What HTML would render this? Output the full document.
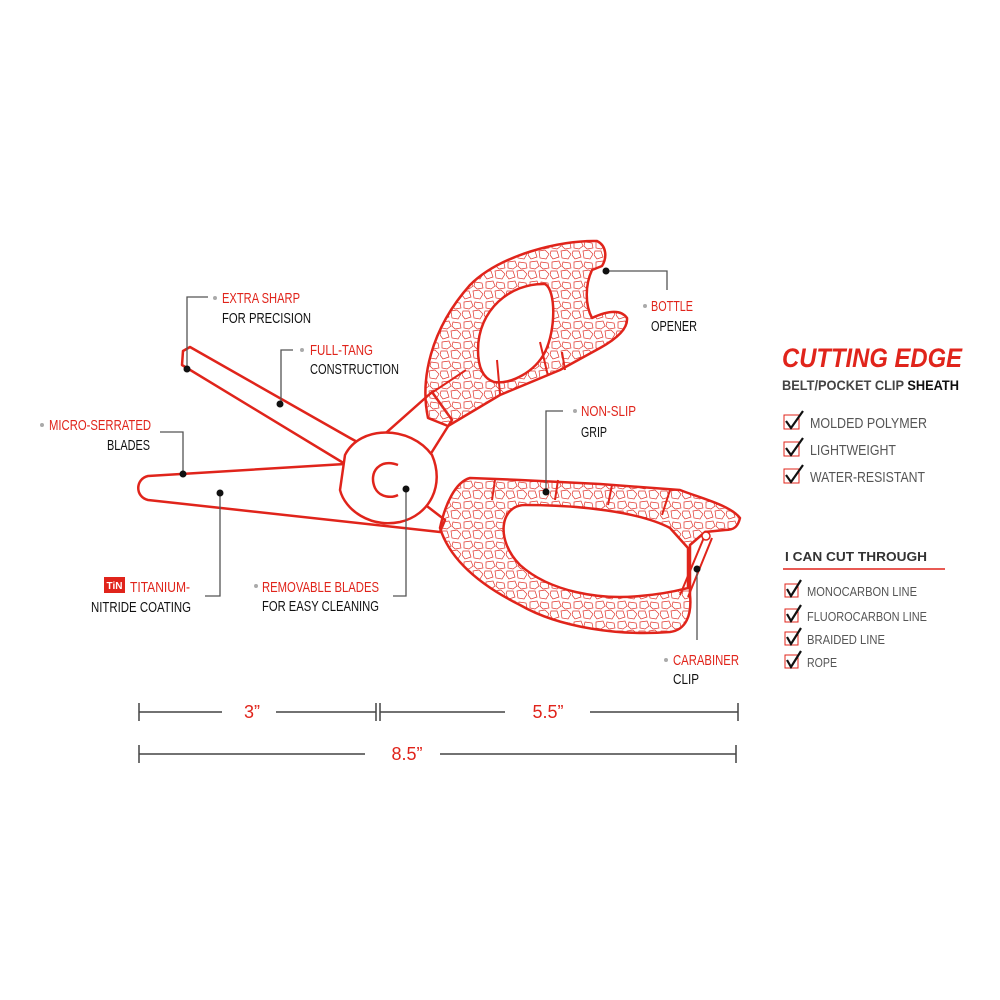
<!DOCTYPE html>
<html><head><meta charset="utf-8"><style>
body{margin:0;background:#fff;}
svg{display:block}
.n{font-family:"Liberation Sans Narrow","Liberation Sans",sans-serif;}
</style></head><body>
<svg width="1000" height="1000" viewBox="0 0 1000 1000" xmlns="http://www.w3.org/2000/svg" class="n">
<defs>
<pattern id="tex" width="22" height="20" patternUnits="userSpaceOnUse">
<g fill="none" stroke="#e0322a" stroke-width="0.7">
<path d="M2 2 L9 1 L11 6 L7 9 L2 8 Z"/>
<path d="M13 2 L20 3 L21 8 L15 9 L12 6 Z"/>
<path d="M1 11 L7 11 L9 17 L3 19 L0 15 Z"/>
<path d="M11 11 L17 10 L21 14 L18 19 L12 18 Z"/>
</g>
</pattern>
</defs>
<g stroke="#e0241b" stroke-width="2.5" fill="#fff" stroke-linejoin="round">
<path d="M378 440 L432 392 L452 420 L430 455 Z"/>
<path d="M183 351 L190 347 L350 438 L372 450 L355 470 L182 365 Z"/>
<path d="M148 476 L345 464 L380 470 L445 520 L440 532 L148 500 C135 497 135 479 148 476 Z"/>
<path d="M345 455 C360 425 410 425 432 455 C445 485 430 515 400 522 C370 528 345 510 340 490 Z"/>
<path fill="url(#tex)" fill-rule="evenodd" d="M428 418 C420 380 430 330 470 285 C500 255 560 240 597 241 C607 246 607 258 602 266 L592 270 C585 285 585 305 592 318 C605 312 620 308 627 318 C628 328 618 338 600 348 L560 370 L500 395 L448 426 Z
M478 350 C478 310 510 283 545 284 C556 290 556 330 545 352 C535 372 510 385 494 382 C482 378 478 365 478 350 Z"/>
<path fill="url(#tex)" fill-rule="evenodd" d="M440 528 C445 505 455 482 470 478 L520 480 L600 484 L680 490 C700 498 730 505 740 518 C738 526 735 530 725 530 L705 532 L690 545 L690 595 C692 615 686 630 670 632 C620 636 560 628 520 605 C480 585 450 560 440 528 Z
M525 505 C500 505 495 540 520 565 C550 592 600 600 640 596 C665 594 680 590 688 588 L688 548 L670 528 C640 512 580 505 525 505 Z"/>
</g>
<path d="M430 394 L466 370 M500 394 L497 360 M548 376 L540 342 M565 370 L562 352 M495 480 L492 500 M558 480 L555 500 M612 485 L608 505 M670 490 L662 515" stroke="#e0241b" stroke-width="2" fill="none"/>
<path d="M398 465 C380 458 368 472 375 488 C380 498 392 498 398 495" stroke="#e0241b" stroke-width="2.5" fill="none"/>
<path d="M705 535 L680 595 M712 538 L688 597" stroke="#e0241b" stroke-width="2" fill="none"/>
<circle cx="706" cy="536" r="4" stroke="#e0241b" fill="#fff" stroke-width="1.5"/>

<g stroke="#555" stroke-width="1.3" fill="none">
<path d="M208 297 H187 V368"/>
<path d="M293 350 H281 V403"/>
<path d="M160 432 H183 V473"/>
<path d="M205 596 H220 V493"/>
<path d="M393 596 H406 V489"/>
<path d="M563 411 H546 V491"/>
<path d="M606 271 H667 V290"/>
<path d="M697 569 V640"/>
</g>
<g fill="#111">
<circle cx="187" cy="369" r="3.5"/><circle cx="280" cy="404" r="3.5"/><circle cx="183" cy="474" r="3.5"/>
<circle cx="220" cy="493" r="3.5"/><circle cx="406" cy="489" r="3.5"/><circle cx="546" cy="492" r="3.5"/>
<circle cx="606" cy="271" r="3.5"/><circle cx="697" cy="569" r="3.5"/>
</g>
<g fill="#aaa"><circle cx="215" cy="298" r="2"/><circle cx="302" cy="350" r="2"/><circle cx="42" cy="425" r="2"/><circle cx="256" cy="586" r="2"/><circle cx="575" cy="411" r="2"/><circle cx="645" cy="306" r="2"/><circle cx="666" cy="660" r="2"/></g>
<g font-size="15" lengthAdjust="spacingAndGlyphs">
<text x="222" y="303" fill="#e0241b" textLength="78" lengthAdjust="spacingAndGlyphs">EXTRA SHARP</text>
<text x="222" y="323" fill="#111" textLength="89" lengthAdjust="spacingAndGlyphs">FOR PRECISION</text>
<text x="310" y="355" fill="#e0241b" textLength="63" lengthAdjust="spacingAndGlyphs">FULL-TANG</text>
<text x="310" y="374" fill="#111" textLength="89" lengthAdjust="spacingAndGlyphs">CONSTRUCTION</text>
<text x="49" y="430" fill="#e0241b" textLength="102" lengthAdjust="spacingAndGlyphs">MICRO-SERRATED</text>
<text x="107" y="450" fill="#111" textLength="43" lengthAdjust="spacingAndGlyphs">BLADES</text>
<text x="130" y="592" fill="#e0241b" textLength="60" lengthAdjust="spacingAndGlyphs">TITANIUM-</text>
<text x="91" y="612" fill="#111" textLength="100" lengthAdjust="spacingAndGlyphs">NITRIDE COATING</text>
<text x="262" y="592" fill="#e0241b" textLength="117" lengthAdjust="spacingAndGlyphs">REMOVABLE BLADES</text>
<text x="262" y="611" fill="#111" textLength="117" lengthAdjust="spacingAndGlyphs">FOR EASY CLEANING</text>
<text x="581" y="416" fill="#e0241b" textLength="55" lengthAdjust="spacingAndGlyphs">NON-SLIP</text>
<text x="581" y="437" fill="#111" textLength="26" lengthAdjust="spacingAndGlyphs">GRIP</text>
<text x="651" y="311" fill="#e0241b" textLength="42" lengthAdjust="spacingAndGlyphs">BOTTLE</text>
<text x="651" y="331" fill="#111" textLength="46" lengthAdjust="spacingAndGlyphs">OPENER</text>
<text x="673" y="665" fill="#e0241b" textLength="66" lengthAdjust="spacingAndGlyphs">CARABINER</text>
<text x="673" y="684" fill="#111" textLength="26" lengthAdjust="spacingAndGlyphs">CLIP</text>
</g>
<rect x="104" y="577" width="21" height="16" fill="#e0241b"/>
<text x="114.5" y="589" font-size="10" fill="#fff" text-anchor="middle" font-weight="bold">TiN</text>

<g stroke="#444" stroke-width="1.5">
<path d="M139 712 H222 M276 712 H376 M139 703 V721 M376 703 V721"/>
<path d="M380 712 H505 M590 712 H738 M380 703 V721 M738 703 V721"/>
<path d="M139 754 H365 M440 754 H736 M139 745 V763 M736 745 V763"/>
</g>
<g font-size="18" fill="#e0241b" text-anchor="middle">
<text x="252" y="718">3”</text><text x="548" y="718">5.5”</text><text x="407" y="760">8.5”</text>
</g>

<text x="782" y="367" font-size="27" font-weight="bold" font-style="italic" fill="#e0241b" textLength="180" lengthAdjust="spacingAndGlyphs">CUTTING EDGE</text>
<text x="782" y="390" font-size="14" font-weight="bold" fill="#444" textLength="177" lengthAdjust="spacingAndGlyphs">BELT/POCKET CLIP <tspan fill="#111">SHEATH</tspan></text>
<g font-size="15" fill="#555">
<text x="810" y="428" textLength="117" lengthAdjust="spacingAndGlyphs">MOLDED POLYMER</text>
<text x="810" y="455" textLength="86" lengthAdjust="spacingAndGlyphs">LIGHTWEIGHT</text>
<text x="810" y="482" textLength="115" lengthAdjust="spacingAndGlyphs">WATER-RESISTANT</text>
</g>
<text x="785" y="561" font-size="13" font-weight="bold" fill="#333" textLength="142" lengthAdjust="spacingAndGlyphs">I CAN CUT THROUGH</text>
<path d="M783 569 H945" stroke="#e0241b" stroke-width="1.5"/>
<g font-size="13" fill="#555">
<text x="807" y="596" textLength="110" lengthAdjust="spacingAndGlyphs">MONOCARBON LINE</text>
<text x="807" y="621" textLength="120" lengthAdjust="spacingAndGlyphs">FLUOROCARBON LINE</text>
<text x="807" y="644" textLength="78" lengthAdjust="spacingAndGlyphs">BRAIDED LINE</text>
<text x="807" y="667" textLength="30" lengthAdjust="spacingAndGlyphs">ROPE</text>
</g>
<g fill="none">
<g stroke="#e0241b" stroke-width="1">
<rect x="784" y="415" width="15" height="14"/><rect x="784" y="442" width="15" height="14"/><rect x="784" y="469" width="15" height="14"/>
<rect x="785" y="584" width="13" height="13"/><rect x="785" y="609" width="13" height="13"/><rect x="785" y="632" width="13" height="13"/><rect x="785" y="655" width="13" height="13"/>
</g>
<g stroke="#111" stroke-width="2.2">
<path d="M786 421 L791 428 L803 411"/><path d="M786 448 L791 455 L803 438"/><path d="M786 475 L791 482 L803 465"/>
<path d="M787 589 L791 596 L801 580"/><path d="M787 614 L791 621 L801 605"/><path d="M787 637 L791 644 L801 628"/><path d="M787 660 L791 667 L801 651"/>
</g>
</g>
</svg>
</body></html>
